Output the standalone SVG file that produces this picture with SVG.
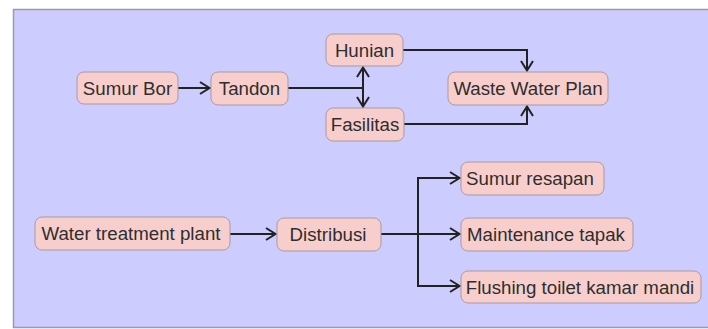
<svg xmlns="http://www.w3.org/2000/svg" width="708" height="329" viewBox="0 0 708 329">
  <style>
    .node rect { fill: #f8cecc; stroke: #a99a9e; stroke-width: 1; }
    .node text { font-family: "Liberation Sans", Arial, sans-serif; font-size: 18.7px; fill: #2e2e2e; text-anchor: middle; }
    .edge { fill: none; stroke: #222222; stroke-width: 2; }
  </style>
  <defs>
    <marker id="arrow" viewBox="0 0 12 14" refX="11" refY="7" markerWidth="12" markerHeight="14" markerUnits="userSpaceOnUse" orient="auto">
      <path d="M1,1 L10.5,7 L1,13" fill="none" stroke="#222222" stroke-width="2"/>
    </marker>
  </defs>

  <rect width="708" height="329" fill="#ffffff"/>
  <rect x="13.5" y="9.5" width="700" height="318" fill="#ccccff" stroke="#9a9aa8" stroke-width="1.5"/>

  <g id="connectors">
    <path class="edge" d="M178,88 H210" marker-end="url(#arrow)"/>
    <path class="edge" d="M288,88 H363"/>
    <path class="edge" d="M363,88 V67" marker-end="url(#arrow)"/>
    <path class="edge" d="M363,88 V107" marker-end="url(#arrow)"/>
    <path class="edge" d="M403,50 H527 V71" marker-end="url(#arrow)"/>
    <path class="edge" d="M404,124 H527 V106" marker-end="url(#arrow)"/>
    <path class="edge" d="M230,234 H276" marker-end="url(#arrow)"/>
    <path class="edge" d="M381,234 H460" marker-end="url(#arrow)"/>
    <path class="edge" d="M418,234 V178 H460" marker-end="url(#arrow)"/>
    <path class="edge" d="M418,234 V286 H460" marker-end="url(#arrow)"/>
  </g>

  <g id="sumur-bor" class="node">
    <rect x="77" y="72" width="101" height="32" rx="7"/>
    <text x="127.5" y="94.5">Sumur Bor</text>
  </g>
  <g id="tandon" class="node">
    <rect x="211" y="72" width="77" height="33" rx="7"/>
    <text x="249.5" y="95">Tandon</text>
  </g>
  <g id="hunian" class="node">
    <rect x="326" y="34" width="77" height="32" rx="7"/>
    <text x="364.5" y="56.5">Hunian</text>
  </g>
  <g id="fasilitas" class="node">
    <rect x="326" y="108" width="78" height="33" rx="7"/>
    <text x="365" y="131">Fasilitas</text>
  </g>
  <g id="waste-water-plan" class="node">
    <rect x="448" y="72" width="160" height="33" rx="7"/>
    <text x="528" y="95">Waste Water Plan</text>
  </g>
  <g id="water-treatment-plant" class="node">
    <rect x="35" y="217" width="195" height="33" rx="7"/>
    <text x="131" y="240">Water treatment plant</text>
  </g>
  <g id="distribusi" class="node">
    <rect x="277" y="218" width="104" height="33" rx="7"/>
    <text x="328" y="241">Distribusi</text>
  </g>
  <g id="sumur-resapan" class="node">
    <rect x="461" y="162" width="143" height="33" rx="7"/>
    <text x="530" y="185">Sumur resapan</text>
  </g>
  <g id="maintenance-tapak" class="node">
    <rect x="461" y="218" width="172" height="33" rx="7"/>
    <text x="546" y="241">Maintenance tapak</text>
  </g>
  <g id="flushing-toilet" class="node">
    <rect x="461" y="271" width="240" height="32" rx="7"/>
    <text x="580" y="293.5">Flushing toilet kamar mandi</text>
  </g>
</svg>
